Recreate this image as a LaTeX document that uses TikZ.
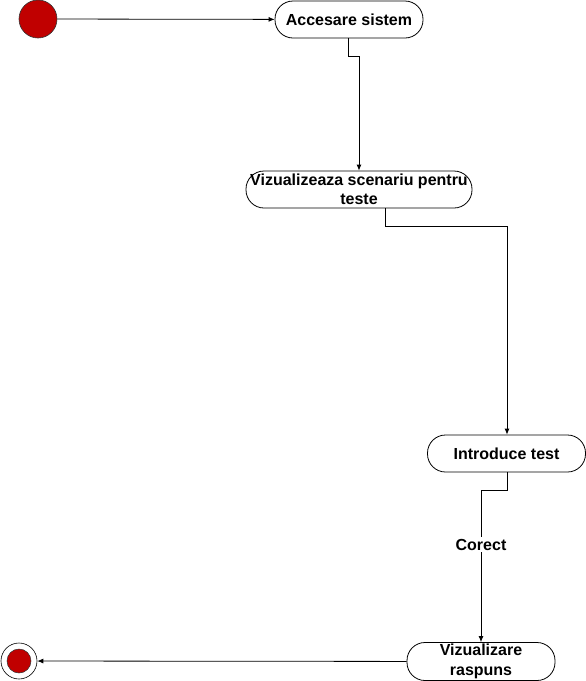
\documentclass[tikz,border=0pt]{standalone}
\usepackage{fontspec}
\setmainfont{Liberation Sans}
\usetikzlibrary{arrows.meta}
\definecolor{darkred}{RGB}{192,0,0}
\begin{document}
\begin{tikzpicture}[x=1pt,y=-1pt,
  act/.style={draw=black, line width=0.8pt, fill=white, rounded corners=18pt, inner sep=0pt,
    align=center, font=\bfseries\fontsize{16}{19.5}\selectfont},
  conn/.style={draw=black, line width=0.8pt, -{Latex[length=6pt,width=5pt]}},
  lbl/.style={fill=white, inner sep=2pt, font=\bfseries\fontsize{16}{19}\selectfont}]
\useasboundingbox (0,0) rectangle (586,681);
\node[circle, draw=black!80, line width=0.6pt, fill=darkred, minimum size=38pt, inner sep=0pt] (start) at (38,19) {};
\node[act, minimum width=148pt, minimum height=37pt] (acc) at (349,19.5) {Accesare sistem};
\node[act, minimum width=226pt, minimum height=37pt] (viz) at (359,189.5) {Vizualizeaza scenariu pentru\\teste};
\node[act, minimum width=158pt, minimum height=37pt] (intro) at (506.5,453.5) {Introduce test};
\node[act, minimum width=148pt, minimum height=38pt] (rasp) at (481,661.5) {Vizualizare\\raspuns};
\node[circle, draw=black, line width=0.6pt, fill=white, minimum size=36pt, inner sep=0pt] (endo) at (19,661) {};
\node[circle, draw=black!80, line width=0.5pt, fill=darkred, minimum size=24pt, inner sep=0pt] (endi) at (19,661) {};
\coordinate (c1) at (348,56);
\coordinate (c2) at (359,56);
\coordinate (c3) at (385,226);
\coordinate (c4) at (507,226);
\coordinate (c5) at (507,490);
\coordinate (c6) at (481,490);
\draw[conn] (start) -- (acc);
\draw[conn] (acc.south -| c1) -- (c1) -- (c2) -- (viz.north -| c2);
\draw[conn] (viz.south -| c3) -- (c3) -- (c4) -- (intro.north -| c4);
\draw[conn] (intro.south -| c5) -- (c5) -- (c6) -- node[lbl, pos=0.36] (corect) {Corect} (rasp.north -| c6);
\draw[conn] (rasp) -- (endo);
\end{tikzpicture}
\end{document}
